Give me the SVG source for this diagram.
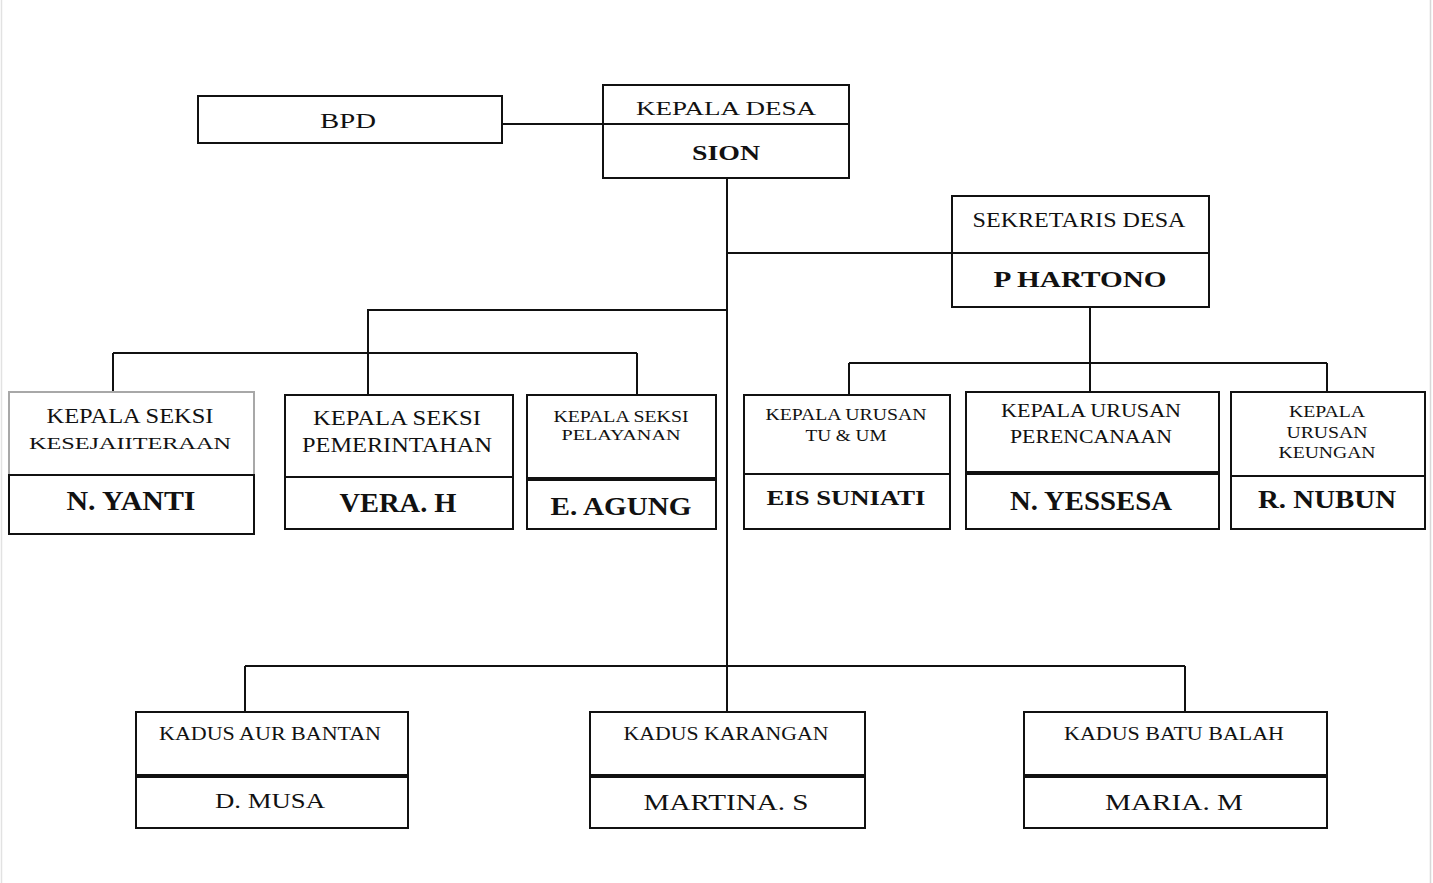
<svg xmlns="http://www.w3.org/2000/svg" width="1433" height="883" viewBox="0 0 1433 883">
<style>
.box{fill:#fff;stroke:#111;stroke-width:2}
.boxg{fill:#fff;stroke:#a8a8a8;stroke-width:2}
.div{stroke:#111;stroke-width:2}
.thick{stroke:#111;stroke-width:4}
.con{fill:none;stroke:#111;stroke-width:2}
text{font-family:'Liberation Serif','DejaVu Serif','Times New Roman',serif;fill:#111;text-anchor:middle}
.b{font-weight:bold}
</style>
<rect x="0" y="0" width="1433" height="883" fill="#fff"/>
<line x1="1.5" y1="0" x2="1.5" y2="883" stroke="#e2e2e2" stroke-width="1.5"/>
<line x1="1430.5" y1="0" x2="1430.5" y2="883" stroke="#d8d8d8" stroke-width="1.5"/>

<g id="connectors">
<path class="con" d="M502 124H603"/>
<path class="con" d="M727 178V712"/>
<path class="con" d="M727 253H952"/>
<path class="con" d="M1090 307V363M849 363H1327M849 363V395M1090 363V392M1327 363V392"/>
<path class="con" d="M727 310H368V395M113 353H637M113 353V392M637 353V395"/>
<path class="con" d="M245 666H1185M245 666V712M1185 666V712"/>
</g>

<g id="bpd">
<rect class="box" x="198" y="96" width="304" height="47"/>
<text x="348" y="128" font-size="21" textLength="56" lengthAdjust="spacingAndGlyphs">BPD</text>
</g>

<g id="kepala-desa">
<rect class="box" x="603" y="85" width="246" height="93"/>
<line class="div" x1="603" y1="124" x2="849" y2="124"/>
<text x="726" y="115" font-size="19" textLength="180" lengthAdjust="spacingAndGlyphs">KEPALA DESA</text>
<text class="b" x="726" y="160" font-size="21" textLength="68" lengthAdjust="spacingAndGlyphs">SION</text>
</g>

<g id="sekretaris-desa">
<rect class="box" x="952" y="196" width="257" height="111"/>
<line class="div" x1="952" y1="253" x2="1209" y2="253"/>
<text x="1079" y="227" font-size="20" textLength="213" lengthAdjust="spacingAndGlyphs">SEKRETARIS DESA</text>
<text class="b" x="1080" y="287" font-size="23" textLength="173" lengthAdjust="spacingAndGlyphs">P HARTONO</text>
</g>

<g id="kasi-kesejahteraan">
<rect class="boxg" x="9" y="392" width="245" height="83"/>
<rect class="box" x="9" y="475" width="245" height="59"/>
<text x="130" y="423" font-size="21" textLength="167" lengthAdjust="spacingAndGlyphs">KEPALA SEKSI</text>
<text x="130" y="449" font-size="17" textLength="202" lengthAdjust="spacingAndGlyphs">KESEJAIITERAAN</text>
<text class="b" x="131" y="510" font-size="27" textLength="129" lengthAdjust="spacingAndGlyphs">N. YANTI</text>
</g>

<g id="kasi-pemerintahan">
<rect class="box" x="285" y="395" width="228" height="134"/>
<line class="div" x1="285" y1="477" x2="513" y2="477"/>
<text x="397" y="425" font-size="21" textLength="168" lengthAdjust="spacingAndGlyphs">KEPALA SEKSI</text>
<text x="397" y="452" font-size="21" textLength="190" lengthAdjust="spacingAndGlyphs">PEMERINTAHAN</text>
<text class="b" x="398" y="512" font-size="27" textLength="117" lengthAdjust="spacingAndGlyphs">VERA. H</text>
</g>

<g id="kasi-pelayanan">
<rect class="box" x="527" y="395" width="189" height="134"/>
<line class="thick" x1="527" y1="479" x2="716" y2="479"/>
<text x="621" y="422" font-size="17" textLength="135" lengthAdjust="spacingAndGlyphs">KEPALA SEKSI</text>
<text x="621" y="440" font-size="15" textLength="119" lengthAdjust="spacingAndGlyphs">PELAYANAN</text>
<text class="b" x="621" y="515" font-size="25" textLength="141" lengthAdjust="spacingAndGlyphs">E. AGUNG</text>
</g>

<g id="kaur-tu-um">
<rect class="box" x="744" y="395" width="206" height="134"/>
<line class="div" x1="744" y1="474" x2="950" y2="474"/>
<text x="846" y="420" font-size="17" textLength="161" lengthAdjust="spacingAndGlyphs">KEPALA URUSAN</text>
<text x="846" y="441" font-size="16" textLength="81" lengthAdjust="spacingAndGlyphs">TU &amp; UM</text>
<text class="b" x="846" y="505" font-size="21" textLength="159" lengthAdjust="spacingAndGlyphs">EIS SUNIATI</text>
</g>

<g id="kaur-perencanaan">
<rect class="box" x="966" y="392" width="253" height="137"/>
<line class="thick" x1="966" y1="473" x2="1219" y2="473"/>
<text x="1091" y="417" font-size="19" textLength="180" lengthAdjust="spacingAndGlyphs">KEPALA URUSAN</text>
<text x="1091" y="443" font-size="18" textLength="162" lengthAdjust="spacingAndGlyphs">PERENCANAAN</text>
<text class="b" x="1091" y="510" font-size="27" textLength="162" lengthAdjust="spacingAndGlyphs">N. YESSESA</text>
</g>

<g id="kaur-keuangan">
<rect class="box" x="1231" y="392" width="194" height="137"/>
<line class="div" x1="1231" y1="476" x2="1425" y2="476"/>
<text x="1327" y="417" font-size="16" textLength="76" lengthAdjust="spacingAndGlyphs">KEPALA</text>
<text x="1327" y="438" font-size="16" textLength="81" lengthAdjust="spacingAndGlyphs">URUSAN</text>
<text x="1327" y="458" font-size="16" textLength="97" lengthAdjust="spacingAndGlyphs">KEUNGAN</text>
<text class="b" x="1327" y="508" font-size="25" textLength="138" lengthAdjust="spacingAndGlyphs">R. NUBUN</text>
</g>

<g id="kadus-aur-bantan">
<rect class="box" x="136" y="712" width="272" height="116"/>
<line class="thick" x1="136" y1="776" x2="408" y2="776"/>
<text x="270" y="740" font-size="18" textLength="222" lengthAdjust="spacingAndGlyphs">KADUS AUR BANTAN</text>
<text x="270" y="808" font-size="22" textLength="110" lengthAdjust="spacingAndGlyphs">D. MUSA</text>
</g>

<g id="kadus-karangan">
<rect class="box" x="590" y="712" width="275" height="116"/>
<line class="thick" x1="590" y1="776" x2="865" y2="776"/>
<text x="726" y="740" font-size="18" textLength="205" lengthAdjust="spacingAndGlyphs">KADUS KARANGAN</text>
<text x="726" y="810" font-size="23" textLength="165" lengthAdjust="spacingAndGlyphs">MARTINA. S</text>
</g>

<g id="kadus-batu-balah">
<rect class="box" x="1024" y="712" width="303" height="116"/>
<line class="thick" x1="1024" y1="776" x2="1327" y2="776"/>
<text x="1174" y="740" font-size="18" textLength="220" lengthAdjust="spacingAndGlyphs">KADUS BATU BALAH</text>
<text x="1174" y="810" font-size="23" textLength="138" lengthAdjust="spacingAndGlyphs">MARIA. M</text>
</g>
</svg>
